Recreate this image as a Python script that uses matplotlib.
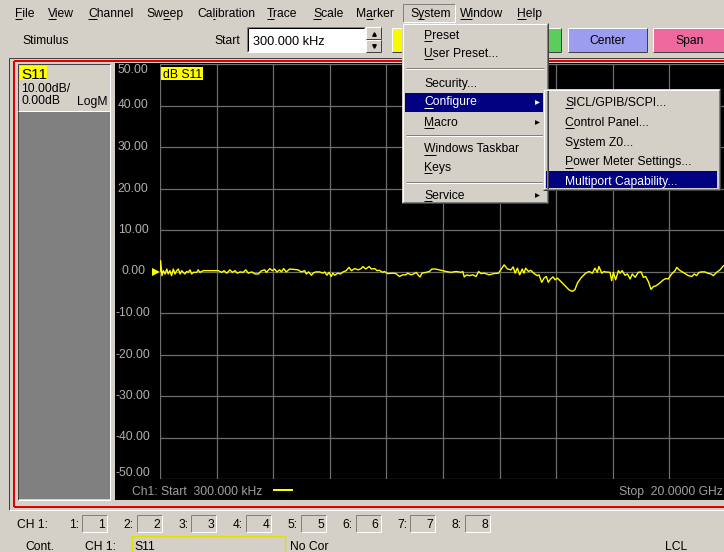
import matplotlib.pyplot as plt
import numpy as np
from matplotlib.patches import Rectangle
from matplotlib.font_manager import FontProperties
from matplotlib.transforms import ScaledTranslation

FONT = ['Liberation Sans', 'DejaVu Sans']
plt.rcParams['font.family'] = FONT

W, H = 724, 552
GRAY = '#d4d0c8'
DARK = '#808080'
NAVY = '#000080'
YEL = '#ffff00'
FS = 8.7

# stimulus range, GHz
f_start = 0.0003
f_stop = 20.0

# S11 trace (GHz, dB)
freq_ghz = [0.0003, 0.02, 0.07, 0.12, 0.18, 0.24, 0.29, 0.35, 0.41, 0.47,
            0.53, 0.59, 0.65, 0.71, 0.77, 0.82, 0.88, 0.94, 1.00, 1.06,
            1.12, 1.18, 1.30, 1.35, 1.41, 1.53, 2.06, 2.18, 2.26, 2.36,
            2.47, 2.56, 2.65, 2.73, 2.83, 2.94, 3.03, 3.12, 3.24, 3.36,
            3.47, 3.59,
            3.70, 3.76, 3.88, 3.97, 4.05, 4.13, 4.23, 4.29, 4.37, 4.46,
            4.58, 4.88, 4.99, 5.11, 5.17, 5.25, 5.35, 5.41, 5.50, 5.64,
            5.76, 5.82, 5.90, 5.97, 6.05, 6.11, 6.17, 6.29, 6.37, 6.47,
            6.58, 6.68, 6.76, 6.88, 7.00, 7.11, 7.17, 7.27, 7.39, 7.47,
            7.59, 7.67,
            7.75, 7.87, 7.93, 8.05, 8.22, 8.34, 8.46, 8.58, 8.69, 8.75,
            8.87, 8.99, 9.05, 9.14, 9.19, 9.26, 9.40, 9.52, 9.61, 9.73,
            9.87, 9.93, 10.11, 10.28, 10.46, 10.64, 10.70, 10.75, 10.84, 10.93,
            11.05, 11.17, 11.26, 11.34, 11.46,
            11.63, 11.80, 11.96, 12.04, 12.16, 12.28, 12.40, 12.48, 12.55, 12.63,
            12.71, 12.80, 12.86, 12.92, 13.02, 13.10, 13.22, 13.33, 13.39, 13.49,
            13.57, 13.65, 13.72, 13.80, 13.89, 13.96, 14.04, 14.12, 14.28, 14.45,
            14.57, 14.66, 14.75, 14.87, 15.04, 15.16, 15.28, 15.37, 15.45, 15.51,
            15.61, 15.69,
            15.73, 15.90, 15.96, 16.02, 16.10, 16.20, 16.26, 16.33, 16.43, 16.52,
            16.61, 16.69, 16.79, 16.90, 17.00, 17.08, 17.16, 17.26, 17.35, 17.44,
            17.52, 17.67, 17.79, 17.87, 17.96, 18.08, 18.20, 18.26, 18.34, 18.46,
            18.58, 18.67, 18.79, 18.88, 18.96, 19.05, 19.14, 19.26, 19.35, 19.47,
            19.55, 19.67, 19.79, 19.91, 20.0]
s11_db = [0.0, 2.6, -1.0, 0.2, -0.6, 0.6, -0.6, 0.2, -1.0, 0.6,
          -0.6, 0.2, 0.6, -0.6, 0.2, -0.2, -0.6, 0.0, -0.2, 0.4,
          -0.6, -0.2, -0.2, 0.4, -0.2, 0.2, 0.2, -0.2, 0.2, -0.4,
          0.4, -0.2, 0.2, -0.4, -0.1, -0.2, 0.4, -0.4, -0.1, -0.6,
          -0.6, 0.2,
          0.4, -0.2, 0.7, 0.2, 0.6, -0.1, 0.4, -0.1, 0.7, -0.1,
          0.6, 0.4, -0.1, 0.2, -0.6, -0.1, -0.9, -0.4, -0.1, -0.1,
          -0.4, -0.1, -0.9, -0.2, -1.2, -0.4, -0.9, -0.4, -0.6, -0.1,
          0.2, 1.0, 0.2, 0.7, 0.4, 0.7, 1.2, 0.6, 1.2, 0.6,
          0.7, 0.2,
          0.3, -0.2, 0.0, -0.5, -0.4, -0.5, -1.2, -0.8, -0.8, -0.4,
          -0.8, -0.5, -0.2, -1.0, -1.3, -0.4, -0.2, 0.0, 0.6, 0.6,
          0.4, 0.3, 0.0, -0.2, 0.0, -0.2, 0.0, -1.3, -0.8, -1.0,
          -0.8, -1.2, 0.0, -0.5, -0.4,
          -0.8, -0.5, -0.4, 0.4, 1.6, 0.6, 0.4, 1.1, -0.4, 0.8,
          -0.8, 0.6, -0.4, 0.8, 0.0, 0.3, -0.5, -1.0, -0.8, -2.6,
          -1.6, -1.2, -2.6, -1.8, -1.3, -2.0, -1.6, -2.1, -3.2, -4.4,
          -4.8, -4.4, -2.8, -1.6, -0.4, 0.0, -0.4, 0.8, -0.2, 1.2,
          -0.4, 0.0,
          -0.1, -0.2, -2.2, -0.2, -2.0, 0.2, -0.4, 0.2, -0.9, -0.6,
          -1.8, -0.6, -1.4, -0.2, -0.1, -1.4, -1.2, -2.5, -4.3, -3.6,
          -3.5, -2.7, -2.0, -1.7, -1.8, -0.6, 0.2, 1.0, 0.4, -0.1,
          -0.6, -1.0, -1.2, -0.6, -1.0, -0.2, -0.1, -0.1, -0.4, -0.6,
          -1.0, -0.2, 0.4, 1.4, 1.6]
y_ticks = [-50, -40, -30, -20, -10, 0, 10, 20, 30, 40, 50]

menu_names = ['File', 'View', 'Channel', 'Sweep', 'Calibration', 'Trace',
              'Scale', 'Marker', 'System', 'Window', 'Help']
menu_keys = [0, 0, 0, 2, 2, 0, 0, 1, 1, 0, 0]
menu_x = [15, 48, 88, 146, 197, 267, 313, 356, 410, 460, 517]

system_items = ['Preset', 'User Preset...', 'Security...', 'Configure', 'Macro',
                'Windows Taskbar', 'Keys', 'Service']
system_keys = [0, 0, None, 0, 0, 0, 0, 0]
system_y = [39, 57, 86.5, 105.5, 126, 152.5, 171, 199]
system_arrow = [False, False, False, True, True, False, False, True]

config_items = ['SICL/GPIB/SCPI...', 'Control Panel...', 'System Z0...',
                'Power Meter Settings...', 'Multiport Capability...']
config_keys = [0, 0, 1, 0, None]
config_y = [105.5, 125.5, 146, 165.5, 185.5]

channels = ['1', '2', '3', '4', '5', '6', '7', '8']


fig = plt.figure(figsize=(W / 100, H / 100), dpi=100)
fig.patch.set_facecolor(GRAY)
renderer = fig.canvas.get_renderer()


def new_layer(z):
    a = fig.add_axes([0, 0, 1, 1], zorder=z)
    a.set_xlim(0, W)
    a.set_ylim(H, 0)
    a.axis('off')
    return a


def box(a, x0, y0, x1, y1, fc, ec='none', lw=0):
    a.add_patch(Rectangle((x0, y0), x1 - x0, y1 - y0, fc=fc, ec=ec, lw=lw))


def line(a, xs, ys, color, px=1):
    a.plot(xs, ys, color=color, lw=px * 0.72, solid_capstyle='butt')


def bevel(a, x0, y0, x1, y1, light, dark):
    line(a, [x0, x1], [y0, y0], light)
    line(a, [x0, x0], [y0, y1], light)
    line(a, [x0, x1], [y1, y1], dark)
    line(a, [x1, x1], [y0, y1], dark)


def text_w(s, fp):
    if s == '':
        return 0
    return renderer.get_text_width_height_descent(s, fp, ismath=False)[0]


def label(a, x, y, s, key=None, color='black', size=FS, **kw):
    a.text(x, y, s, color=color, fontsize=size, va='baseline', **kw)
    if key is not None:
        fp = FontProperties(family=FONT, size=size)
        line(a, [x + text_w(s[:key], fp), x + text_w(s[:key + 1], fp)],
             [y + 2, y + 2], color)


bg = new_layer(0)

# menu bar
for name, k, x in zip(menu_names, menu_keys, menu_x):
    label(bg, x, 17, name, k)
bevel(bg, 403, 4, 455, 22, DARK, 'white')

# stimulus toolbar
label(bg, 22, 44, 'Stimulus')
label(bg, 240, 44, 'Start', ha='right')
box(bg, 247, 27, 365, 52, 'white')
bevel(bg, 247, 27, 365, 52, DARK, 'white')
line(bg, [248, 364], [28, 28], 'black')
line(bg, [248, 248], [28, 51], 'black')
label(bg, 253, 45, '300.000 kHz', size=9.2)
box(bg, 366, 27, 381, 52, GRAY)
bevel(bg, 366, 27, 381, 39, 'white', '#404040')
bevel(bg, 366, 40, 381, 52, 'white', '#404040')
bg.plot([373.5], [34], marker='^', ms=2.5, color='black')
bg.plot([373.5], [46], marker='v', ms=2.5, color='black')
for x0, x1, fc, txt in [(392, 470, '#f8f800', ''), (474, 561, '#5ccc5c', ''),
                        (568, 647, '#9c9cf0', 'Center'), (653, 730, '#ee6a9e', 'Span')]:
    box(bg, x0, 28, x1, 52, fc)
    bevel(bg, x0, 28, x1, 52, 'white', '#404040')
    if txt:
        label(bg, (x0 + min(x1, 727)) / 2, 44, txt, ha='center')

# window frame
line(bg, [9, W], [58, 58], '#404040')
line(bg, [9, 9], [58, 510], '#404040')
line(bg, [9, W], [510, 510], 'white')
line(bg, [14, W], [61, 61], '#e00000', 2)
line(bg, [14, 14], [61, 507], '#e00000', 2)
line(bg, [14, W], [507, 507], '#e00000', 2)

# trace info panel
box(bg, 18, 64, 110, 110, GRAY)
box(bg, 18, 111, 110, 499, DARK)
bevel(bg, 18, 64, 110, 500, '#404040', 'white')
line(bg, [18, 110], [110.5, 110.5], 'white')
box(bg, 20, 66, 47, 80, YEL)
label(bg, 21, 79, 'S11', size=11)
label(bg, 21, 92.5, '10.00dB/')
label(bg, 21, 104.5, '0.00dB')
label(bg, 77, 104.5, 'LogM')

# screen
box(bg, 115, 63, W + 2, 500, 'black')
label(bg, 132, 495, 'Ch1: Start  300.000 kHz', color='#a0a0a0')
line(bg, [273, 293], [490, 490], YEL, 2)
label(bg, 723, 495, 'Stop  20.0000 GHz', color='#a0a0a0', ha='right')

# status bar
label(bg, 17, 528, 'CH 1:')
for i, ch in enumerate(channels):
    x0 = 82 + i * 54.7
    label(bg, x0 - 3, 528, ch + ':', ha='right')
    bevel(bg, x0, 515, x0 + 25, 532, DARK, 'white')
    label(bg, x0 + 23, 528, ch, ha='right')
label(bg, 25, 550, 'Cont.')
label(bg, 85, 550, 'CH 1:')
box(bg, 132, 536, 285, 556, 'none', '#e0e000', 1)
label(bg, 134, 550, 'S11')
label(bg, 290, 550, 'No Cor')
label(bg, 665, 550, 'LCL')

# measurement grid and trace
ax = fig.add_axes([160 / W, 1 - 479 / H, 566 / W, 415 / H], zorder=1)
ax.patch.set_alpha(0)
ax.set_xlim(f_start, f_stop)
ax.set_ylim(-50, 50)
ax.set_xticks(np.linspace(f_start, f_stop, 11))
ax.set_yticks(y_ticks)
ax.grid(True, color='#6e6e6e', lw=0.9)
ax.tick_params(length=0, labelbottom=False, labelleft=False)
for s in ax.spines.values():
    s.set_visible(False)
for v in y_ticks:
    va = 'top' if v == 50 else ('bottom' if v == -50 else 'center')
    ax.text(-27 / 566, v, '%.2f' % v, transform=ax.get_yaxis_transform(),
            ha='center', va=va, fontsize=FS, color='#b0b0b0', clip_on=False)
ax.plot(freq_ghz, s11_db, color=YEL, lw=1.0)
ax.plot([f_start], [0], marker='>', ms=5.5, mew=0, color=YEL, clip_on=False,
        transform=ax.transData + ScaledTranslation(-0.04, 0, fig.dpi_scale_trans))

# open System > Configure menu
top = new_layer(2)
box(top, 161, 67, 203, 80, YEL)
label(top, 163, 78, 'dB S11')

box(top, 402, 23, 548, 203, GRAY)
bevel(top, 402, 23, 548, 203, GRAY, '#404040')
bevel(top, 403, 24, 547, 202, 'white', DARK)
box(top, 405, 93, 544, 112, NAVY)
for sep in [68, 135, 182]:
    line(top, [406, 544], [sep, sep], DARK)
    line(top, [406, 544], [sep + 1, sep + 1], 'white')
for name, k, y, arr in zip(system_items, system_keys, system_y, system_arrow):
    col = 'white' if name == 'Configure' else 'black'
    label(top, 424, y, name, k, color=col)
    if arr:
        top.plot([537], [y - 4], marker='>', ms=3.5, mew=0, color=col)

box(top, 543, 89, 720, 190, GRAY)
bevel(top, 543, 89, 720, 190, GRAY, '#404040')
bevel(top, 544, 90, 719, 189, 'white', DARK)
box(top, 546, 171, 717, 188, NAVY)
for name, k, y in zip(config_items, config_keys, config_y):
    col = 'white' if k is None else 'black'
    label(top, 565, y, name, k, color=col)

fig.savefig('out.png', dpi=100, facecolor=fig.get_facecolor())
